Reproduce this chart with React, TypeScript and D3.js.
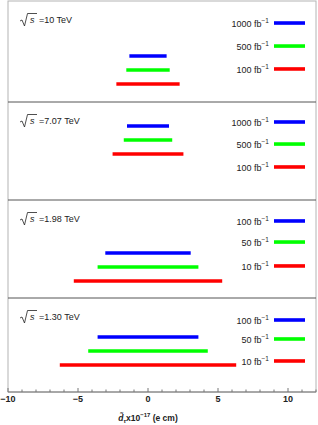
import React from "react";
import * as d3 from "d3";

const energies = ["10", "7.07", "1.98", "1.30"];
const luminosities = [
  ["1000", "500", "100"],
  ["1000", "500", "100"],
  ["100", "50", "10"],
  ["100", "50", "10"],
];
// symmetric limits (x10^-17 e cm) for each luminosity, per energy
const limits = [
  [1.33, 1.55, 2.26],
  [1.5, 1.73, 2.53],
  [3.05, 3.6, 5.3],
  [3.6, 4.27, 6.3],
];
// vertical level of each bar inside its panel (0 = top, 1 = bottom)
const barLevels = [
  [0.545, 0.683, 0.822],
  [0.245, 0.388, 0.531],
  [0.541, 0.684, 0.827],
  [0.415, 0.564, 0.713],
];
const legendLevels = [
  [0.218, 0.446, 0.673],
  [0.204, 0.429, 0.663],
  [0.214, 0.429, 0.673],
  [0.234, 0.436, 0.67],
];
const colors = ["#0000ff", "#00ff00", "#ff0000"];
const majorTicks = [-10, -5, 0, 5, 10];

const width = 318;
const height = 425;
const left = 8;
const right = 316;
const panelTops = [1, 102, 200, 298];
const plotBottom = 392;
const font = "'Liberation Sans', Arial, sans-serif";

const App = () => {
  const x = d3.scaleLinear().domain([-10, 12]).range([left, right]);
  const minorTicks = d3.range(-10, 13, 1).filter((t) => t % 5 !== 0);

  const renderPanel = (energy: string, i: number) => {
    const top = panelTops[i];
    const bottom = i < 3 ? panelTops[i + 1] : plotBottom;
    const y = d3.scaleLinear().domain([0, 1]).range([top, bottom]);
    const tb = top + 22;
    const tx = 20;
    return (
      <g key={energy}>
        <path
          d={`M${tx},${tb - 2} L${tx + 2},${tb - 3} L${tx + 4.5},${tb + 3} L${tx + 7.5},${tb - 9.5} L${tx + 17},${tb - 9.5}`}
          fill="none"
          stroke="#222"
          strokeWidth={0.8}
        />
        <text x={tx + 10} y={tb} fontSize={9} fontStyle="italic" fill="#222" fontFamily={font}>
          s
        </text>
        <text x={tx + 19} y={tb} fontSize={9} fill="#222" fontFamily={font}>
          ={energy} TeV
        </text>
        {limits[i].map((v, j) => (
          <line
            key={"b" + j}
            x1={x(-v)}
            x2={x(v)}
            y1={y(barLevels[i][j])}
            y2={y(barLevels[i][j])}
            stroke={colors[j]}
            strokeWidth={3.6}
          />
        ))}
        {luminosities[i].map((lum, j) => {
          const ly = y(legendLevels[i][j]);
          return (
            <g key={"l" + j}>
              <text
                x={269}
                y={ly + 4}
                fontSize={9}
                fill="#222"
                textAnchor="end"
                fontFamily={font}
              >
                {lum} fb
                <tspan fontSize={6.5} dy={-4}>
                  −1
                </tspan>
              </text>
              <line x1={274} x2={305} y1={ly} y2={ly} stroke={colors[j]} strokeWidth={3.6} />
            </g>
          );
        })}
        {i < 3 && (
          <line x1={left} x2={right} y1={bottom} y2={bottom} stroke="#555" strokeWidth={1} />
        )}
      </g>
    );
  };

  return (
    <svg
      width={width}
      height={height}
      style={{ position: "absolute", left: 0, top: 0, background: "#fff" }}
    >
      <rect
        x={left}
        y={panelTops[0]}
        width={right - left}
        height={plotBottom - panelTops[0]}
        fill="none"
        stroke="#b4b4b4"
        strokeWidth={1}
      />
      {energies.map(renderPanel)}
      <line x1={left} x2={right} y1={plotBottom} y2={plotBottom} stroke="#777" strokeWidth={1} />
      {majorTicks.map((t) => (
        <g key={"M" + t}>
          <line x1={x(t)} x2={x(t)} y1={plotBottom} y2={plotBottom - 4} stroke="#777" />
          <text
            x={x(t)}
            y={plotBottom + 10}
            fontSize={9}
            fontWeight="bold"
            fill="#222"
            textAnchor="middle"
            fontFamily={font}
          >
            {t < 0 ? "−" + Math.abs(t) : t}
          </text>
        </g>
      ))}
      {minorTicks.map((t) => (
        <line key={"m" + t} x1={x(t)} x2={x(t)} y1={plotBottom} y2={plotBottom - 2.5} stroke="#777" />
      ))}
      <text
        x={x(0)}
        y={421}
        fontSize={8.5}
        fontWeight="bold"
        fill="#222"
        textAnchor="middle"
        fontFamily={font}
      >
        <tspan fontStyle="italic">d̃</tspan>
        <tspan fontSize={6} dy={2} fontStyle="italic">τ</tspan>
        <tspan dy={-2}>x10</tspan>
        <tspan fontSize={6} dy={-4}>−17</tspan>
        <tspan dy={4}> (e cm)</tspan>
      </text>
    </svg>
  );
};

export default App;
